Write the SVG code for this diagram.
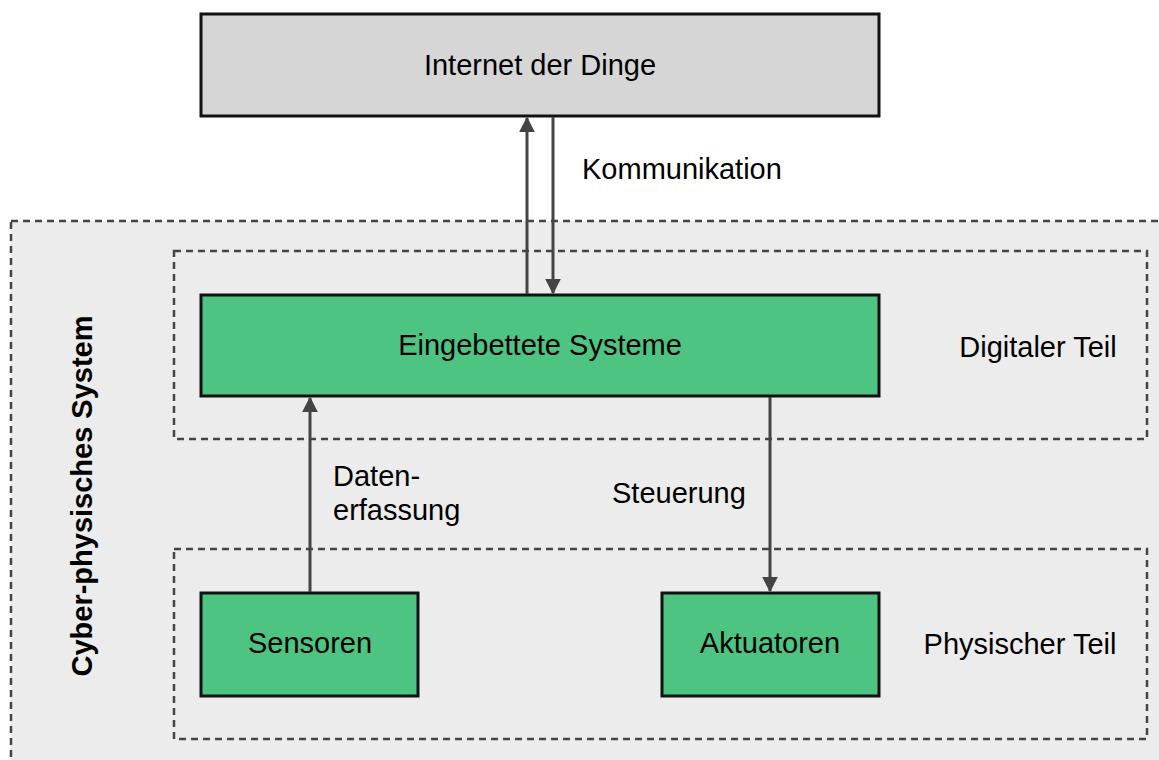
<svg xmlns="http://www.w3.org/2000/svg" width="1159" height="760" viewBox="0 0 1159 760">
  <style>
    .lbl { font-family: "Liberation Sans", Arial, sans-serif; font-size: 29px; fill: #000; }
    .mid { text-anchor: middle; }
    .zone { fill: none; stroke: #444; stroke-width: 2.5; stroke-dasharray: 7 5; }
    .box { stroke: #111; stroke-width: 3; }
    .green { fill: #4dc482; }
    .grey { fill: #d6d6d6; }
    .edge { stroke: #444; stroke-width: 3; fill: none; }
  </style>
  <defs>
    <marker id="arrow" viewBox="0 0 10 10" refX="9" refY="5" markerWidth="5.3" markerHeight="5.3" orient="auto" markerUnits="strokeWidth">
      <path d="M0,0 L10,5 L0,10 z" fill="#444"/>
    </marker>
  </defs>

  <rect x="0" y="0" width="1159" height="760" fill="#fff"/>

  <!-- cyber-physical system frame -->
  <g id="cps">
    <rect x="11" y="221" width="1160" height="560" fill="#ececec" stroke="#444" stroke-width="2.5" stroke-dasharray="7 5"/>
    <text class="lbl" x="0" y="0" font-weight="bold" text-anchor="middle" transform="translate(92,496) rotate(-90)">Cyber-physisches System</text>
  </g>

  <!-- digital layer -->
  <g id="digital">
    <rect class="zone" x="174" y="251" width="973" height="188"/>
    <text class="lbl" x="1038" y="357" text-anchor="middle">Digitaler Teil</text>
  </g>

  <!-- physical layer -->
  <g id="physical">
    <rect class="zone" x="174" y="549" width="973" height="190"/>
    <text class="lbl" x="1020" y="654" text-anchor="middle">Physischer Teil</text>
  </g>

  <g id="iot">
    <rect class="box grey" x="201" y="14" width="678" height="102"/>
    <text class="lbl mid" x="540" y="75">Internet der Dinge</text>
  </g>

  <g id="embedded">
    <rect class="box green" x="201" y="295" width="678" height="101"/>
    <text class="lbl mid" x="540" y="355">Eingebettete Systeme</text>
  </g>

  <g id="sensors">
    <rect class="box green" x="201" y="593" width="217" height="103"/>
    <text class="lbl mid" x="310" y="653">Sensoren</text>
  </g>

  <g id="actuators">
    <rect class="box green" x="662" y="593" width="217" height="103"/>
    <text class="lbl mid" x="770" y="653">Aktuatoren</text>
  </g>

  <!-- connectors -->
  <g id="connectors">
    <line class="edge" x1="527" y1="294" x2="527" y2="118" marker-end="url(#arrow)"/>
    <line class="edge" x1="553" y1="117" x2="553" y2="293" marker-end="url(#arrow)"/>
    <line class="edge" x1="310" y1="592" x2="310" y2="398" marker-end="url(#arrow)"/>
    <line class="edge" x1="770" y1="397" x2="770" y2="591" marker-end="url(#arrow)"/>
    <text class="lbl" x="582" y="179">Kommunikation</text>
    <text class="lbl" x="612" y="503">Steuerung</text>
    <text class="lbl" x="333" y="486">Daten-</text>
    <text class="lbl" x="333" y="520">erfassung</text>
  </g>
</svg>
